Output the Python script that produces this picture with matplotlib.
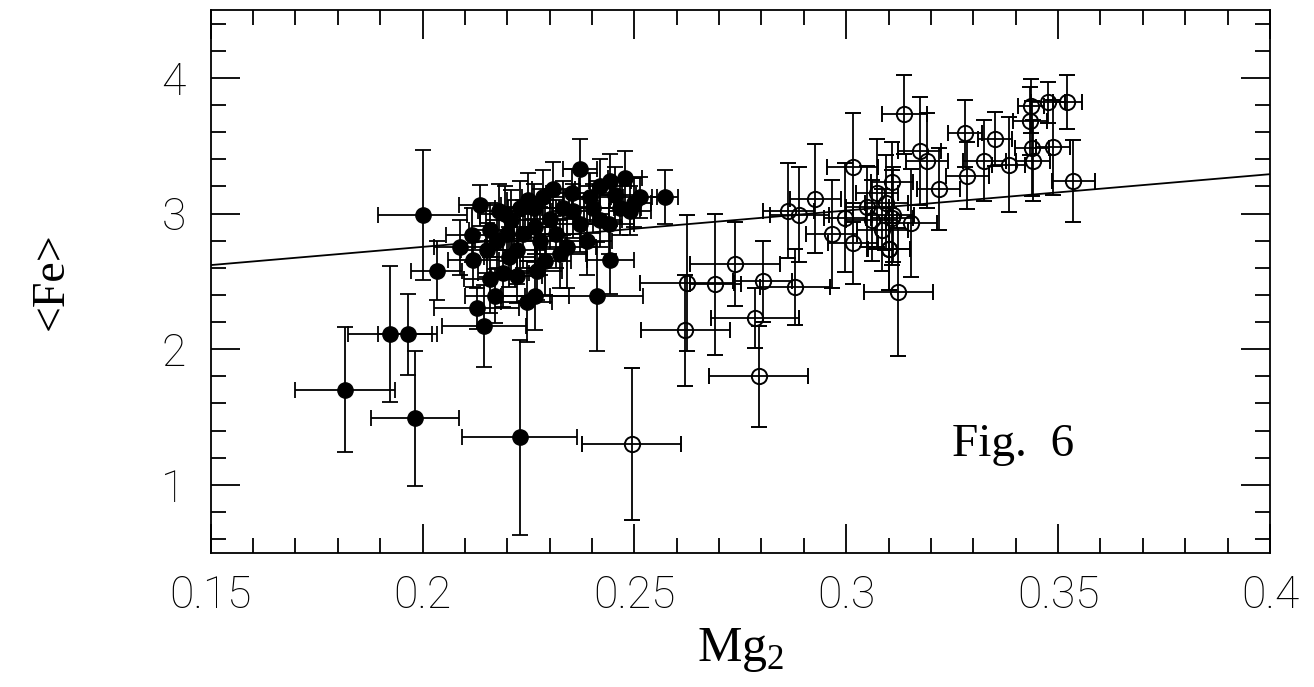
import numpy as np
import matplotlib
matplotlib.use('Agg')
import matplotlib.pyplot as plt
from matplotlib.ticker import MultipleLocator

# filled points (Mg2, <Fe>, errors)
fill_x = [0.1817, 0.1923, 0.1965, 0.1983, 0.2229, 0.2000, 0.2034, 0.2128, 0.2145, 0.2411,
          0.2443, 0.2572, 0.2372, 0.2116, 0.2266, 0.2246, 0.2171, 0.2309, 0.2352, 0.2443,
          0.2478, 0.2513, 0.2136, 0.2230, 0.2238, 0.2175, 0.2152, 0.2191, 0.2340, 0.2372,
          0.2403, 0.2466, 0.2301, 0.2277, 0.2222, 0.2088, 0.2388, 0.2490, 0.2332, 0.2262,
          0.2199, 0.2159, 0.2222, 0.2120, 0.2250, 0.2290, 0.2420, 0.2195,
          0.2180, 0.2205, 0.2265, 0.2315, 0.2355, 0.2395, 0.2440, 0.2455, 0.2500, 0.2285,
          0.2325, 0.2160, 0.2210, 0.2420, 0.2270]
fill_y = [1.70, 2.11, 2.11, 1.49, 1.35, 2.99, 2.58, 2.30, 2.17, 2.39,
          2.66, 3.12, 3.33, 2.84, 2.39, 2.35, 2.39, 3.18, 3.15, 3.24,
          3.26, 3.12, 3.06, 3.04, 2.85, 2.80, 2.73, 2.56, 2.75, 2.92,
          3.04, 3.04, 2.96, 2.80, 2.73, 2.75, 2.80, 3.02, 3.04, 3.04,
          2.85, 2.52, 2.54, 2.66, 3.10, 2.65, 2.95, 3.00,
          3.02, 2.68, 2.90, 2.85, 3.02, 3.12, 2.92, 3.14, 3.08, 3.12,
          2.70, 2.88, 2.95, 3.20, 2.58]
fill_xe = [0.0118, 0.0100, 0.0070, 0.0104, 0.0135, 0.0104, 0.0060, 0.0100, 0.0100, 0.0110,
           0.0055, 0.0030, 0.0040, 0.0060, 0.0080, 0.0060, 0.0070, 0.0050, 0.0060, 0.0050,
           0.0040, 0.0040, 0.0050, 0.0060, 0.0070, 0.0050, 0.0060, 0.0060, 0.0070, 0.0060,
           0.0050, 0.0050, 0.0060, 0.0060, 0.0070, 0.0060, 0.0060, 0.0050, 0.0050, 0.0060,
           0.0050, 0.0060, 0.0060, 0.0060, 0.0050, 0.0060, 0.0050, 0.0060,
           0.0050, 0.0060, 0.0050, 0.0060, 0.0050, 0.0050, 0.0060, 0.0050, 0.0040, 0.0050,
           0.0060, 0.0050, 0.0060, 0.0050, 0.0060]
fill_ye = [0.46, 0.50, 0.30, 0.50, 0.72, 0.48, 0.22, 0.15, 0.30, 0.40,
           0.25, 0.20, 0.22, 0.20, 0.25, 0.30, 0.20, 0.20, 0.18, 0.20,
           0.20, 0.15, 0.15, 0.20, 0.25, 0.20, 0.20, 0.25, 0.30, 0.20,
           0.18, 0.20, 0.22, 0.25, 0.25, 0.20, 0.25, 0.18, 0.20, 0.18,
           0.20, 0.25, 0.20, 0.20, 0.20, 0.25, 0.20, 0.20,
           0.20, 0.22, 0.20, 0.25, 0.20, 0.18, 0.22, 0.20, 0.18, 0.20,
           0.25, 0.20, 0.22, 0.20, 0.22]

# open points
open_x = [0.2494, 0.2793, 0.2620, 0.2785, 0.2624, 0.2691, 0.2738, 0.2803, 0.2879, 0.3123,
          0.2863, 0.2889, 0.2927, 0.2966, 0.2997, 0.3016, 0.3015, 0.3072, 0.3108, 0.3108,
          0.3100, 0.3218, 0.3137, 0.3173, 0.3190, 0.3281, 0.3286, 0.3350, 0.3326, 0.3383,
          0.3436, 0.3434, 0.3477, 0.3522, 0.3438, 0.3488, 0.3440, 0.3536, 0.3154, 0.3111,
          0.3101, 0.3060, 0.3050, 0.3085, 0.3095]
open_y = [1.30, 1.80, 2.14, 2.23, 2.49, 2.48, 2.63, 2.50, 2.46, 2.42,
          3.02, 2.99, 3.11, 2.85, 2.97, 2.78, 3.34, 3.15, 3.23, 2.97,
          2.74, 3.18, 3.73, 3.46, 3.39, 3.59, 3.28, 3.55, 3.39, 3.36,
          3.79, 3.68, 3.82, 3.82, 3.48, 3.49, 3.39, 3.24, 2.93, 2.99,
          2.74, 2.95, 3.05, 2.88, 3.08]
open_xe = [0.0117, 0.0117, 0.0105, 0.0104, 0.0110, 0.0060, 0.0106, 0.0070, 0.0083, 0.0082,
           0.0060, 0.0070, 0.0060, 0.0060, 0.0050, 0.0060, 0.0060, 0.0050, 0.0050, 0.0050,
           0.0050, 0.0050, 0.0053, 0.0050, 0.0050, 0.0040, 0.0050, 0.0040, 0.0050, 0.0040,
           0.0030, 0.0040, 0.0040, 0.0035, 0.0040, 0.0040, 0.0040, 0.0050, 0.0060, 0.0050,
           0.0050, 0.0060, 0.0050, 0.0060, 0.0050]
open_ye = [0.56, 0.37, 0.41, 0.22, 0.50, 0.52, 0.31, 0.30, 0.28, 0.47,
           0.35, 0.35, 0.40, 0.40, 0.40, 0.30, 0.40, 0.40, 0.30, 0.35,
           0.30, 0.30, 0.29, 0.40, 0.35, 0.25, 0.25, 0.20, 0.30, 0.35,
           0.20, 0.25, 0.15, 0.20, 0.35, 0.35, 0.30, 0.30, 0.40, 0.35,
           0.30, 0.30, 0.30, 0.30, 0.35]

# fitted line end points
line_x = [0.15, 0.40]
line_y = [2.62, 3.29]

plt.rcParams['mathtext.fontset'] = 'custom'
plt.rcParams['mathtext.rm'] = 'Liberation Serif'
tickfont = 'Roboto'

fig = plt.figure(figsize=(13.14, 6.87), dpi=100)
ax = fig.add_axes([0.1603, 0.1955, 0.8062, 0.7899])

ax.plot(line_x, line_y, color='black', lw=1.3, zorder=1)
ax.errorbar(fill_x, fill_y, xerr=fill_xe, yerr=fill_ye, fmt='o', color='black',
            ms=11, elinewidth=1.3, capsize=6, capthick=1.3, zorder=2)
ax.errorbar(open_x, open_y, xerr=open_xe, yerr=open_ye, fmt='o', color='black',
            mfc='none', mec='black', mew=1.4, ms=11, elinewidth=1.3,
            capsize=6, capthick=1.3, zorder=2)

ax.set_xlim(0.15, 0.4)
ax.set_ylim(0.5, 4.5)
ax.xaxis.set_minor_locator(MultipleLocator(0.01))
ax.yaxis.set_minor_locator(MultipleLocator(0.2))
ax.set_xticks([0.15, 0.2, 0.25, 0.3, 0.35, 0.4])
ax.set_xticklabels(['0.15', '0.2', '0.25', '0.3', '0.35', '0.4'])
ax.set_yticks([1, 2, 3, 4])
ax.set_yticklabels(['1', '2', '3', '4'])

ax.tick_params(which='both', direction='in', top=True, right=True, width=1.3)
ax.tick_params(which='major', length=21)
ax.tick_params(which='minor', length=11)
ax.tick_params(axis='x', which='major', pad=16, labelsize=32)
ax.tick_params(axis='y', which='major', pad=18, labelsize=32)
for lab in ax.get_xticklabels() + ax.get_yticklabels():
    lab.set_fontfamily(tickfont)
    lab.set_fontweight('light')
for s in ax.spines.values():
    s.set_linewidth(1.3)

ax.set_xlabel(r'$\mathrm{Mg}_\mathrm{2}$', fontsize=36, labelpad=6)
ax.set_ylabel('<Fe>', fontsize=33, fontfamily='Liberation Serif', labelpad=64)
ax.text(0.325, 1.215, 'Fig.  6', fontsize=34, fontfamily='Liberation Serif')

fig.savefig('out.png', dpi=100)
plt.close(fig)
